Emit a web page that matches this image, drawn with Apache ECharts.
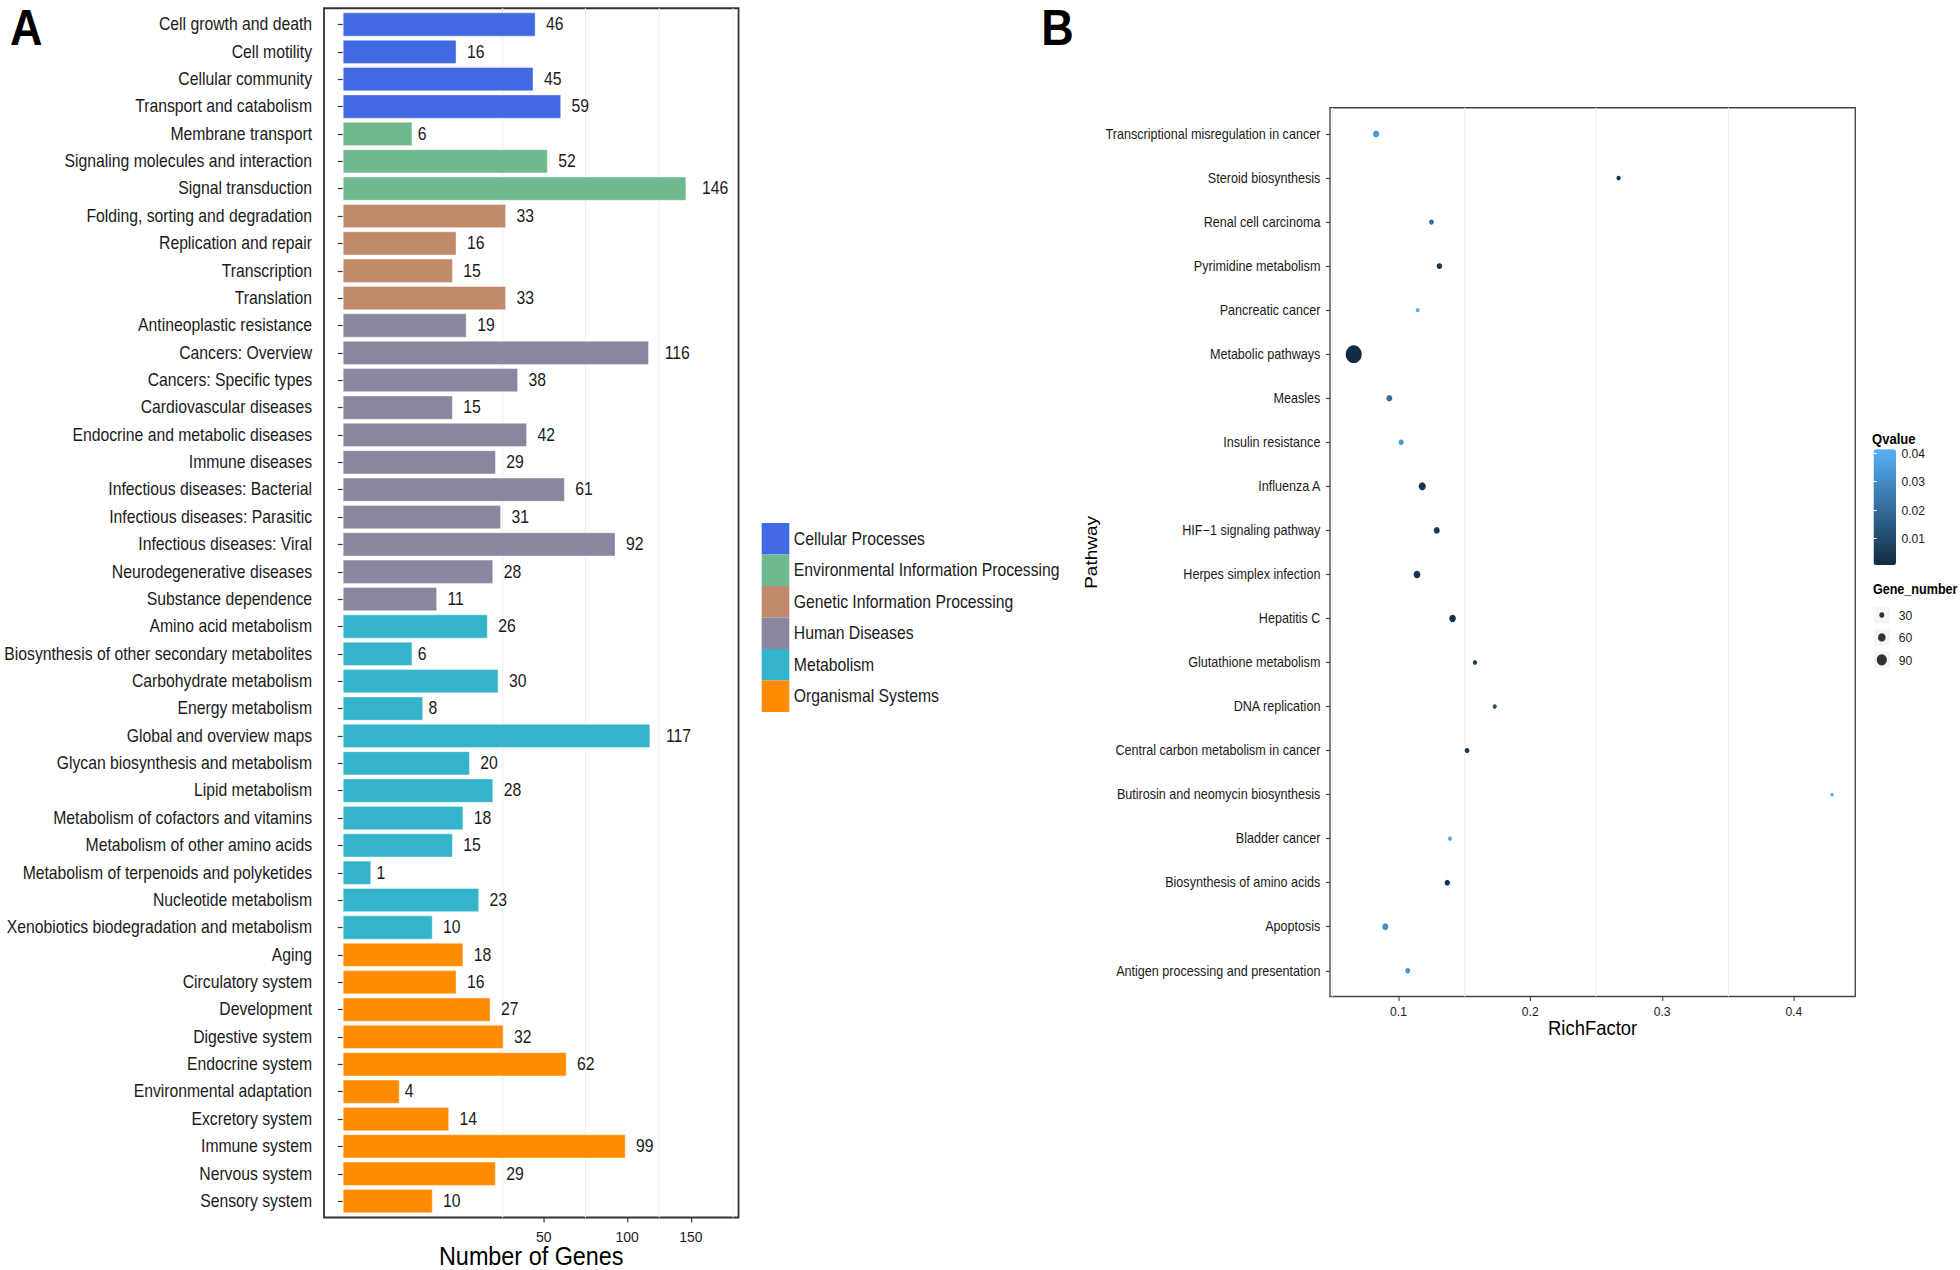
<!DOCTYPE html>
<html>
<head>
<meta charset="utf-8">
<script src="https://cdn.jsdelivr.net/npm/echarts@6/dist/echarts.min.js"></script>
<style>
html,body{margin:0;padding:0;background:#fff;overflow:hidden;width:1960px;height:1270px;}
#wrap{width:1960px;height:1270px;overflow:hidden;position:relative;}
#main{width:2178px;height:1270px;transform:scaleX(0.9);transform-origin:0 0;position:absolute;left:0;top:0;}
</style>
</head>
<body>
<div id="wrap"><div id="main"></div></div>
<script>
// ---------------- Panel A data ----------------
const categories = [
  'Cell growth and death','Cell motility','Cellular community','Transport and catabolism',
  'Membrane transport','Signaling molecules and interaction','Signal transduction',
  'Folding, sorting and degradation','Replication and repair','Transcription','Translation',
  'Antineoplastic resistance','Cancers: Overview','Cancers: Specific types','Cardiovascular diseases',
  'Endocrine and metabolic diseases','Immune diseases','Infectious diseases: Bacterial',
  'Infectious diseases: Parasitic','Infectious diseases: Viral','Neurodegenerative diseases',
  'Substance dependence','Amino acid metabolism','Biosynthesis of other secondary metabolites',
  'Carbohydrate metabolism','Energy metabolism','Global and overview maps',
  'Glycan biosynthesis and metabolism','Lipid metabolism','Metabolism of cofactors and vitamins',
  'Metabolism of other amino acids','Metabolism of terpenoids and polyketides','Nucleotide metabolism',
  'Xenobiotics biodegradation and metabolism','Aging','Circulatory system','Development',
  'Digestive system','Endocrine system','Environmental adaptation','Excretory system',
  'Immune system','Nervous system','Sensory system'
];
const geneCounts = [
  46,16,45,59,
  6,52,146,
  33,16,15,33,
  19,116,38,15,42,29,61,31,92,28,11,
  26,6,30,8,117,20,28,18,15,1,23,10,
  18,16,27,32,62,4,14,99,29,10
];
const categoryGroup = [
  0,0,0,0,
  1,1,1,
  2,2,2,2,
  3,3,3,3,3,3,3,3,3,3,3,
  4,4,4,4,4,4,4,4,4,4,4,4,
  5,5,5,5,5,5,5,5,5,5
];
const groupNames = ['Cellular Processes','Environmental Information Processing','Genetic Information Processing','Human Diseases','Metabolism','Organismal Systems'];
const groupColors = ['#4169E1','#6FB98F','#C08B6B','#8B85A0','#34B4CA','#FF8C00'];
const geneTicks = [50,100,150];

// ---------------- Panel B data ----------------
const pathways = [
  'Transcriptional misregulation in cancer','Steroid biosynthesis','Renal cell carcinoma',
  'Pyrimidine metabolism','Pancreatic cancer','Metabolic pathways','Measles','Insulin resistance',
  'Influenza A','HIF\u22121 signaling pathway','Herpes simplex infection','Hepatitis C',
  'Glutathione metabolism','DNA replication','Central carbon metabolism in cancer',
  'Butirosin and neomycin biosynthesis','Bladder cancer','Biosynthesis of amino acids',
  'Apoptosis','Antigen processing and presentation'
];
const richFactor = [0.083,0.267,0.125,0.131,0.1145,0.066,0.093,0.102,0.118,0.129,0.114,0.141,0.158,0.173,0.152,0.429,0.139,0.137,0.090,0.107];
const qValue     = [0.034,0.003,0.020,0.004,0.040,0.0006,0.021,0.035,0.003,0.004,0.003,0.002,0.008,0.012,0.004,0.0414,0.040,0.002,0.031,0.034];
const geneNumber = [43,20,26,33,16,159,40,30,55,40,50,48,22,18,26,8,18,33,42,30];
const richTicks = [0.1,0.2,0.3,0.4];
const qTicks = [0.01,0.02,0.03,0.04];
const sizeBreaks = [30,60,90];

// ---------------- helpers ----------------
const FONT = "'Liberation Sans', Arial, Helvetica, sans-serif";
const TXT = '#1a1a1a';
function minorBreaks(t, lo, hi) {
  const bd = t[1] - t[0];
  const b = [t[0] - bd].concat(t, [t[t.length - 1] + bd]);
  const out = [];
  for (let i = 0; i < b.length - 1; i++) out.push((b[i] + b[i + 1]) / 2);
  return out.filter(v => v > lo && v < hi);
}
const sizeOf = n => 2.8 + 0.094 * n;

// axis ranges
const A_MIN = -0.66, A_MAX = 13.92;           // sqrt(Number of Genes) space
const B_MIN = 0.048, B_MAX = 0.4466;          // RichFactor
const Q_MIN = 0.0006, Q_MAX = 0.0414;

const aTicks = geneTicks.map(Math.sqrt);
const aMinor = minorBreaks(aTicks, A_MIN, A_MAX);
const bMinor = minorBreaks(richTicks, B_MIN, B_MAX);

// ---------------- series ----------------
const barSeries = groupNames.map((g, gi) => ({
  name: g,
  type: 'bar',
  xAxisIndex: 2,
  yAxisIndex: 1,
  stack: 'genes',
  barWidth: 24.3,
  itemStyle: { color: groupColors[gi], borderColor: 'rgba(255,255,255,0.45)', borderWidth: 1 },
  label: {
    show: true, position: 'right', color: TXT, fontSize: 17.5, fontFamily: FONT,
    formatter: p => String(geneCounts[p.dataIndex])
  },
  emphasis: { disabled: true },
  data: categories.map((c, i) => categoryGroup[i] === gi
    ? { value: Math.sqrt(geneCounts[i]), label: { distance: String(geneCounts[i]).length * 5.8 } }
    : null)
}));

const scatterData = pathways.map((p, i) => [richFactor[i], p, geneNumber[i], qValue[i]]);

const option = {
  animation: false,
  backgroundColor: '#fff',
  textStyle: { fontFamily: FONT },
  title: [
    { text: 'A', left: 11, top: 3, padding: 0, textStyle: { fontSize: 50, lineHeight: 50, fontWeight: 'bold', color: '#000', fontFamily: FONT } },
    { text: 'B', left: 1157, top: 3, padding: 0, textStyle: { fontSize: 50, lineHeight: 50, fontWeight: 'bold', color: '#000', fontFamily: FONT } },
    { text: 'Qvalue', left: 2080, top: 432, padding: 0, textStyle: { fontSize: 14.5, fontWeight: 'bold', color: '#000', fontFamily: FONT } },
    { text: 'Gene_number', left: 2081, top: 582, padding: 0, textStyle: { fontSize: 14, fontWeight: 'bold', color: '#000', fontFamily: FONT } }
  ],
  legend: {
    data: groupNames,
    orient: 'vertical',
    left: 846.3, top: 523,
    itemWidth: 30.7, itemHeight: 31.5, itemGap: 0, padding: 0,
    icon: 'rect',
    selectedMode: false,
    itemStyle: { borderWidth: 0 },
    textStyle: { fontSize: 17.5, lineHeight: 20, color: TXT, fontFamily: FONT }
  },
  visualMap: {
    type: 'continuous',
    seriesIndex: 6,
    dimension: 3,
    min: Q_MIN, max: Q_MAX,
    inRange: { color: ['#132B43', '#56B1F7'] },
    calculable: false,
    hoverLink: false,
    orient: 'vertical',
    left: 2081.7, top: 449.3,
    itemWidth: 25, itemHeight: 115.7,
    padding: 0,
    text: null,
    showLabel: false
  },
  grid: [
    { left: 360, top: 8.3, width: 460.6, height: 1209.2, show: true, borderColor: '#333', borderWidth: 2, backgroundColor: 'transparent', outerBoundsMode: 'none' },
    { left: 360, top: 10.8, width: 460.6, height: 1204, outerBoundsMode: 'none' },
    { left: 1477.8, top: 107.7, width: 583.6, height: 888.8, show: true, borderColor: '#444', borderWidth: 1.5, backgroundColor: 'transparent', outerBoundsMode: 'none' },
    { left: 1477.8, top: 112, width: 583.6, height: 880.8, outerBoundsMode: 'none' },
    { left: 2081.7, top: 449.3, width: 25, height: 115.7, outerBoundsMode: 'none' },
    { left: 2082, top: 603.8, width: 17.8, height: 67.2, outerBoundsMode: 'none' }
  ],
  xAxis: [
    { // 0: A frame axis
      gridIndex: 0, type: 'value', min: A_MIN, max: A_MAX,
      axisLine: { show: false },
      axisTick: { show: true, customValues: aTicks, length: 5, lineStyle: { color: '#333', width: 1.3 } },
      axisLabel: { show: true, customValues: aTicks, margin: 11.5, fontSize: 15.5, lineHeight: 15, color: TXT, formatter: v => String(Math.round(v * v)) },
      splitLine: { show: false },
      name: 'Number of Genes', nameLocation: 'middle', nameGap: 27, nameMoveOverlap: false,
      nameTextStyle: { fontSize: 26, lineHeight: 24, color: '#000', fontFamily: FONT }
    },
    { // 1: A minor grid lines
      gridIndex: 0, type: 'value', min: A_MIN, max: A_MAX,
      axisLine: { show: false }, axisLabel: { show: false },
      axisTick: { show: false, customValues: aMinor },
      splitLine: { show: true, lineStyle: { color: '#EFEFEF', width: 1.2 } }
    },
    { // 2: A bars
      gridIndex: 1, type: 'value', min: A_MIN, max: A_MAX, show: false
    },
    { // 3: B frame axis
      gridIndex: 2, type: 'value', min: B_MIN, max: B_MAX,
      axisLine: { show: false },
      axisTick: { show: true, customValues: richTicks, length: 4.5, lineStyle: { color: '#444', width: 1.2 } },
      axisLabel: { show: true, customValues: richTicks, margin: 8, fontSize: 13.5, color: TXT, formatter: v => String(Math.round(v * 10) / 10) },
      splitLine: { show: false },
      name: 'RichFactor', nameLocation: 'middle', nameGap: 20.5, nameMoveOverlap: false,
      nameTextStyle: { fontSize: 20.5, color: '#000', fontFamily: FONT }
    },
    { // 4: B minor grid lines
      gridIndex: 2, type: 'value', min: B_MIN, max: B_MAX,
      axisLine: { show: false }, axisLabel: { show: false },
      axisTick: { show: false, customValues: bMinor },
      splitLine: { show: true, lineStyle: { color: '#EFEFEF', width: 1.2 } }
    },
    { // 5: B points
      gridIndex: 3, type: 'value', min: B_MIN, max: B_MAX, show: false
    },
    { gridIndex: 4, type: 'value', min: 0, max: 1, show: false },
    { gridIndex: 5, type: 'value', min: 0, max: 1, show: false }
  ],
  yAxis: [
    { gridIndex: 0, type: 'value', min: 0, max: 1, show: false },
    { // 1: A categories
      gridIndex: 1, type: 'category', data: categories, inverse: true,
      axisLine: { show: false },
      axisTick: { show: true, alignWithLabel: true, length: 5.5, lineStyle: { color: '#333', width: 1.2 } },
      axisLabel: { show: true, interval: 0, hideOverlap: false, margin: 13.3, fontSize: 17.5, color: TXT }
    },
    { gridIndex: 2, type: 'value', min: 0, max: 1, show: false },
    { // 3: B categories
      gridIndex: 3, type: 'category', data: pathways, inverse: true,
      axisLine: { show: false },
      axisTick: { show: true, alignWithLabel: true, length: 4.5, lineStyle: { color: '#444', width: 1.2 } },
      axisLabel: { show: true, interval: 0, hideOverlap: false, margin: 10.7, fontSize: 14, color: TXT },
      name: 'Pathway', nameLocation: 'middle', nameRotate: 90, nameGap: 256, nameMoveOverlap: false,
      nameTextStyle: { fontSize: 19, color: '#000', fontFamily: FONT }
    },
    { // 4: colour bar labels (right)
      gridIndex: 4, type: 'value', min: Q_MIN, max: Q_MAX, position: 'right', z: 10,
      axisLine: { show: false },
      axisTick: { show: true, inside: true, customValues: qTicks, length: 3.7, lineStyle: { color: '#fff', width: 1 } },
      axisLabel: { show: true, customValues: qTicks, margin: 6, fontSize: 13.5, color: TXT, formatter: v => v.toFixed(2) },
      splitLine: { show: false }
    },
    { // 5: colour bar ticks (left)
      gridIndex: 4, type: 'value', min: Q_MIN, max: Q_MAX, position: 'left', z: 10,
      axisLine: { show: false },
      axisTick: { show: true, inside: true, customValues: qTicks, length: 3.7, lineStyle: { color: '#fff', width: 1 } },
      axisLabel: { show: false },
      splitLine: { show: false }
    },
    { // 6: size legend labels
      gridIndex: 5, type: 'category', data: sizeBreaks.map(String), inverse: true, position: 'right',
      axisLine: { show: false }, axisTick: { show: false },
      axisLabel: { show: true, margin: 10, fontSize: 13.5, color: TXT }
    }
  ],
  series: barSeries.concat([
    { // 6: enrichment dots
      type: 'scatter', xAxisIndex: 5, yAxisIndex: 3,
      data: scatterData,
      encode: { x: 0, y: 1 },
      symbol: 'circle',
      symbolSize: v => sizeOf(v[2]),
      itemStyle: { opacity: 1 },
      emphasis: { disabled: true },
      z: 5
    },
    { // 7: size legend key backgrounds
      type: 'scatter', xAxisIndex: 7, yAxisIndex: 6,
      data: sizeBreaks.map(s => [0.5, String(s)]),
      symbol: 'rect', symbolSize: [17.8, 16.5],
      itemStyle: { color: '#F2F2F2' },
      emphasis: { disabled: true }, silent: true, z: 2
    },
    { // 8: size legend dots
      type: 'scatter', xAxisIndex: 7, yAxisIndex: 6,
      data: sizeBreaks.map(s => [0.5, String(s), s]),
      symbol: 'circle', symbolSize: v => sizeOf(v[2]),
      itemStyle: { color: '#000' },
      emphasis: { disabled: true }, silent: true, z: 3
    }
  ])
};

const chart = echarts.init(document.getElementById('main'), null, { renderer: 'svg', width: 2178, height: 1270 });
chart.setOption(option);
</script>
</body>
</html>
